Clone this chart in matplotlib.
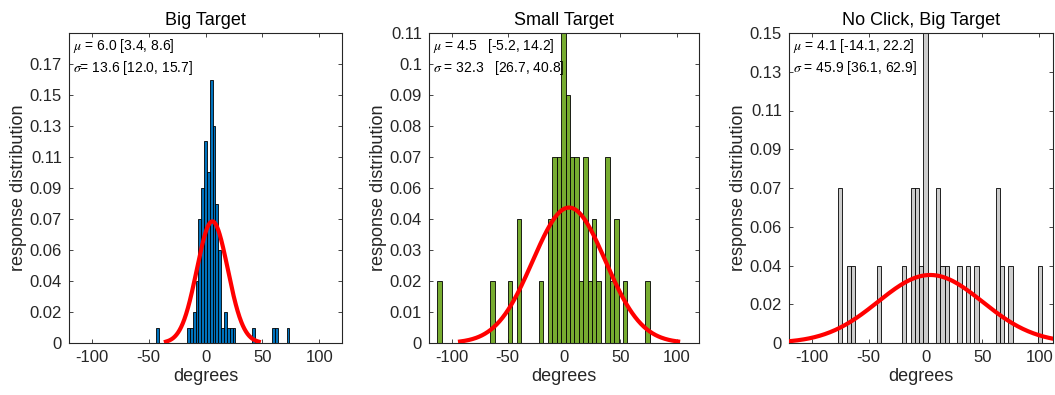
import numpy as np
import matplotlib
matplotlib.use("Agg")
import matplotlib.pyplot as plt

plt.rcParams['font.family'] = ['Liberation Sans', 'DejaVu Sans']
plt.rcParams['mathtext.fontset'] = 'stix'

# Big Target: bin centres (deg) and counts
big_centers = [-42.5, -15, -12.5, -10, -7.5, -5, -2.5, 0, 2.5, 5, 7.5, 10, 12.5,
               15, 17.5, 20, 22.5, 25, 42.5, 60, 62.5, 72.5]
big_counts = [1, 1, 1, 2, 4, 8, 10, 13, 11, 17, 14, 9, 6,
              1, 2, 1, 1, 1, 1, 1, 1, 1]

# Small Target
small_centers = [-110.6, -63.5, -47.8, -39.9, -20.3, -12.4, -8.5, -4.5, -0.6, 3.3, 7.3,
                 11.2, 15.1, 19.1, 23.0, 26.9, 30.8, 38.7, 42.6, 46.6, 54.4, 74.1]
small_counts = [1, 1, 1, 2, 1, 2, 3, 3, 5, 4, 3, 3, 1, 3, 1, 2, 1, 3, 1, 2, 1, 1]

# No Click, Big Target
noclick_centers = [-74.9, -67.4, -63.7, -41.2, -18.8, -11.3, -7.6, -3.8, -0.1, 11.1,
                   14.9, 18.6, 29.8, 37.3, 44.8, 63.5, 67.2, 74.7, 100.9]
noclick_counts = [2, 1, 1, 1, 1, 2, 2, 1, 4, 2, 1, 1, 1, 1, 1, 2, 1, 1, 1]

titles = ["Big Target", "Small Target", "No Click, Big Target"]
n_total = [107, 45, 27]
bin_width = [2.5, 3.93, 3.74]
mus = [6.0, 4.5, 4.1]
sigmas = [13.6, 32.3, 45.9]
stats_text = [
    "$\\mu$ = 6.0 [3.4, 8.6]\n$\\sigma$= 13.6 [12.0, 15.7]",
    "$\\mu$ = 4.5   [-5.2, 14.2]\n$\\sigma$ = 32.3   [26.7, 40.8]",
    "$\\mu$ = 4.1 [-14.1, 22.2]\n$\\sigma$ = 45.9 [36.1, 62.9]",
]
ytick_step = [2, 0.5, 0.5]   # in counts
ytick_labels = [
    ['0', '0.02', '0.04', '0.06', '0.07', '0.09', '0.11', '0.13', '0.15', '0.17'],
    ['0', '0.01', '0.02', '0.03', '0.04', '0.06', '0.07', '0.08', '0.09', '0.1', '0.11'],
    ['0', '0.02', '0.04', '0.06', '0.07', '0.09', '0.11', '0.13', '0.15'],
]
ytop_counts = [20, 5, 4]
xlims = [(-120, 120), (-120, 120), (-120, 112)]
colors = ['#0072BD', '#77AC30', '#CCCCCC']

centers_all = [big_centers, small_centers, noclick_centers]
counts_all = [big_counts, small_counts, noclick_counts]

W, H = 1055, 395
fig = plt.figure(figsize=(W / 100, H / 100), dpi=100)
boxes = [(69, 342), (429, 699), (789, 1053)]
top_px, bot_px = 33, 343
dark = '#262626'

for i in range(3):
    l, r = boxes[i]
    ax = fig.add_axes([l / W, (H - bot_px) / H, (r - l) / W, (bot_px - top_px) / H])
    N = n_total[i]
    heights = np.array(counts_all[i]) / N
    ax.bar(centers_all[i], heights, width=bin_width[i], color=colors[i],
           edgecolor='black', linewidth=0.6, zorder=2)
    x = np.linspace(mus[i] - 3 * sigmas[i], mus[i] + 3 * sigmas[i], 300)
    y = bin_width[i] * np.exp(-0.5 * ((x - mus[i]) / sigmas[i]) ** 2) / (sigmas[i] * np.sqrt(2 * np.pi))
    ax.plot(x, y, color='red', lw=3, zorder=3, clip_on=True)

    ax.set_xlim(*xlims[i])
    ax.set_ylim(0, ytop_counts[i] / N)
    ax.set_xticks([-100, -50, 0, 50, 100])
    ax.set_xticklabels(['-100', '-50', '0', '50', '100'])
    ticks = [k * ytick_step[i] / N for k in range(len(ytick_labels[i]))]
    ax.set_yticks(ticks)
    ax.set_yticklabels(ytick_labels[i])
    ax.tick_params(direction='in', top=True, right=True, length=3, width=0.6,
                   labelsize=12, colors=dark, pad=5)
    for s in ax.spines.values():
        s.set_color(dark)
        s.set_linewidth(0.8)
    ax.set_title(titles[i], fontsize=13, pad=6, color='black')
    ax.set_xlabel('degrees', fontsize=13, color=dark, labelpad=2)
    ax.set_ylabel('response distribution', fontsize=13, color=dark, labelpad=2)
    ax.text(0.015, 0.988, stats_text[i], transform=ax.transAxes, ha='left', va='top',
            fontsize=10, linespacing=1.3, color='black', zorder=4)

fig.savefig('out.png', dpi=100)
